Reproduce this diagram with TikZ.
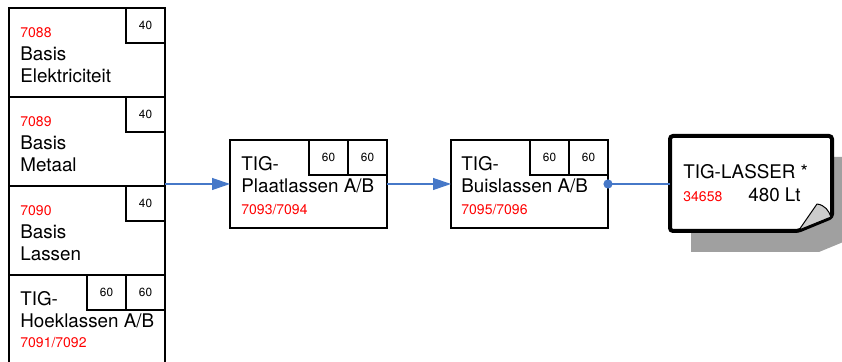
\documentclass[tikz,border=0pt]{standalone}
\usepackage{fontspec}
\setmainfont{TeX Gyre Heros}
\usetikzlibrary{arrows.meta, positioning}
\definecolor{flowblue}{RGB}{70,120,200}
\definecolor{shadowgray}{RGB}{160,160,160}
\definecolor{curlgray}{RGB}{204,204,204}

\begin{document}
\begin{tikzpicture}[x=0.5pt, y=-0.5pt,
    cell/.style={draw, line width=0.7pt, anchor=north west, inner sep=0pt, outer sep=0pt,
                 minimum width=78pt, minimum height=44.5pt},
    hrs/.style={draw, line width=0.7pt, anchor=north east, inner sep=0pt, outer sep=0pt,
                minimum width=19.5pt, minimum height=17.5pt, font=\fontsize{5.9}{7}\selectfont},
    course/.style={anchor=base west, inner sep=0pt, align=left, font=\fontsize{9.4}{11.3}\selectfont},
    nr/.style={anchor=base west, inner sep=0pt, text=red, font=\fontsize{7}{8}\selectfont},
    flow/.style={draw=flowblue, line width=0.6pt}]
    % fixed frame
    \path[use as bounding box] (0,0) rectangle (842,362);

    % left column
    \node[cell] (elek) at (9,8) {};
    \node[cell] (metaal) at (9,97) {};
    \node[cell] (lassen) at (9,186) {};
    \node[cell] (hoek) at (9,275) {};

    \node[hrs] (elek-h) at (elek.north east) {40};
    \node[hrs] (metaal-h) at (metaal.north east) {40};
    \node[hrs] (lassen-h) at (lassen.north east) {40};
    \node[hrs] (hoek-h2) at (hoek.north east) {60};
    \node[hrs, left=0pt of hoek-h2] (hoek-h1) {60};

    % base of a two line text = its last line
    \node[nr] (elek-nr) at (20,38) {7088};
    \node[course] (elek-txt) at (20,83) {Basis\\Elektriciteit};
    \node[nr] (metaal-nr) at (20,127) {7089};
    \node[course] (metaal-txt) at (20,172) {Basis\\Metaal};
    \node[nr] (lassen-nr) at (20,216) {7090};
    \node[course] (lassen-txt) at (20,261) {Basis\\Lassen};
    \node[course] (hoek-txt) at (20,328) {TIG-\\Hoeklassen A/B};
    \node[nr] (hoek-nr) at (20,348) {7091/7092};

    % middle boxes
    \node[cell, minimum width=78.5pt, minimum height=44pt] (plaat) at (230,140) {};
    \node[hrs] (plaat-h2) at (plaat.north east) {60};
    \node[hrs, left=0pt of plaat-h2] (plaat-h1) {60};
    \node[course] (plaat-txt) at (241,193) {TIG-\\Plaatlassen A/B};
    \node[nr] (plaat-nr) at (241,215) {7093/7094};

    \node[cell, minimum width=78.5pt, minimum height=44pt] (buis) at (451,140) {};
    \node[hrs] (buis-h2) at (buis.north east) {60};
    \node[hrs, left=0pt of buis-h2] (buis-h1) {60};
    \node[course] (buis-txt) at (461,193) {TIG-\\Buislassen A/B};
    \node[nr] (buis-nr) at (461,215) {7095/7096};

    % end result, page with shadow and curl
    \node[anchor=north west, inner sep=0pt, outer sep=0pt, minimum width=81pt, minimum height=47.5pt] (lasser) at (670,136) {};
    \fill[shadowgray] ([shift={(21,21)}]lasser.north west) -- ([shift={(21,21)}]lasser.north east)
        -- ([shift={(21,7)}]lasser.south east) -- ([shift={(-13,21)}]lasser.south east)
        -- ([shift={(21,21)}]lasser.south west) -- cycle;
    \draw[line width=2pt, fill=white, rounded corners=1.5pt] (lasser.north west) -- (lasser.north east)
        -- ([shift={(0,-14)}]lasser.south east) -- ([shift={(-34,0)}]lasser.south east)
        -- (lasser.south west) -- cycle;
    \draw[line width=0.5pt, fill=curlgray, line join=round] ([shift={(-33,-1)}]lasser.south east)
        -- ([shift={(-15,-27)}]lasser.south east)
        .. controls ([shift={(-7,-26)}]lasser.south east) and ([shift={(-3,-20)}]lasser.south east)
        .. ([shift={(-1,-14)}]lasser.south east) -- cycle;
    \node[course] (lasser-txt) at (683,179) {TIG-LASSER *};
    \node[nr] (lasser-nr) at (683,202) {34658};
    \node[course] (lasser-lt) at (748,202) {480 Lt};

    % connectors
    \draw[flow, -{Triangle[length=9pt, width=6pt]}] (plaat.west -| metaal.east) -- (plaat.west);
    \draw[flow, -{Triangle[length=9pt, width=6pt]}] (plaat.east) -- (buis.west);
    \draw[flow] (buis.east) -- (buis.east -| lasser.west);
    \fill[flowblue] (buis.east) circle[radius=2.3pt];
\end{tikzpicture}
\end{document}
